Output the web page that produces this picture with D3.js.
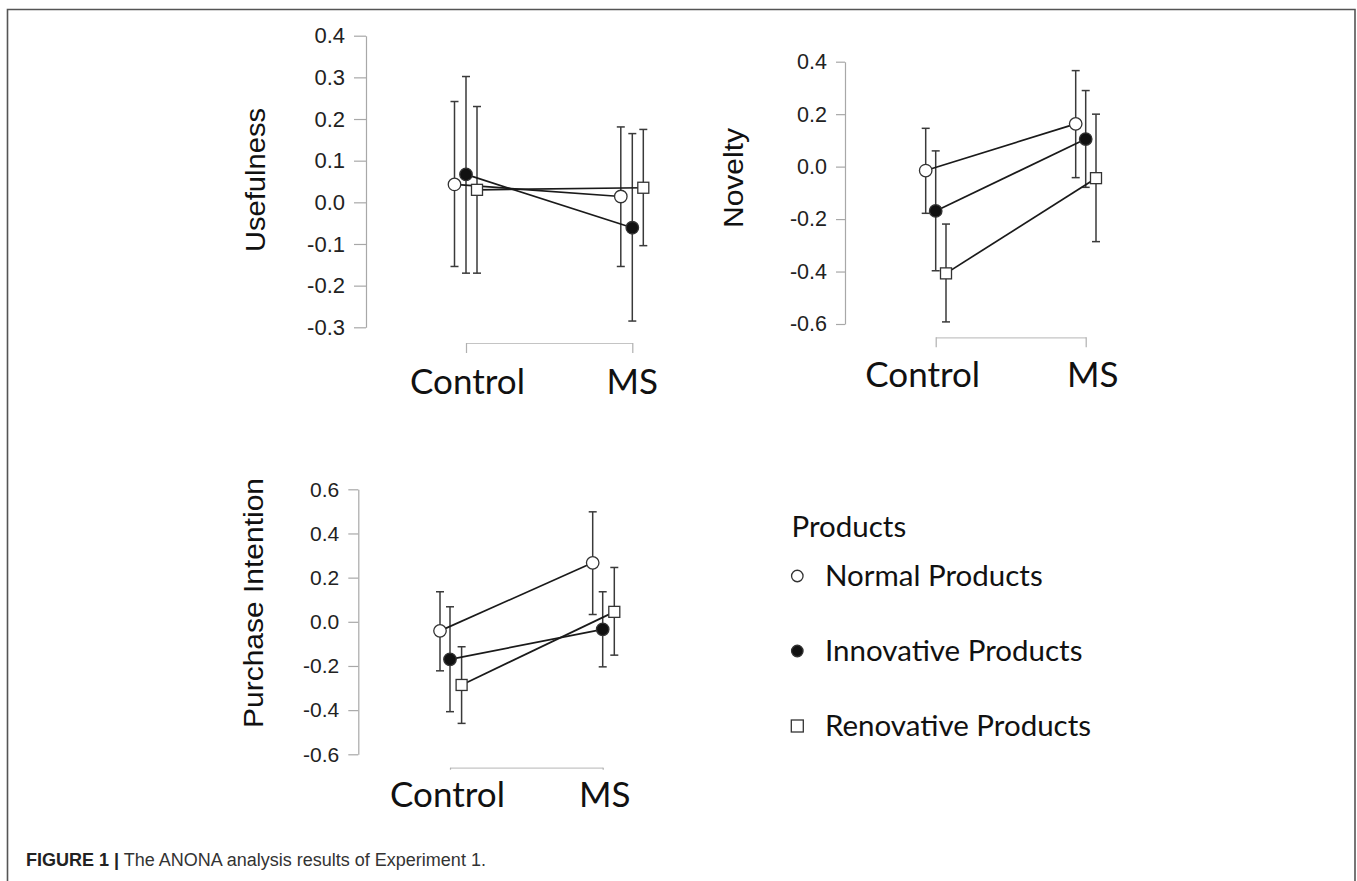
<!DOCTYPE html>
<html>
<head>
<meta charset="utf-8">
<script src="https://cdn.jsdelivr.net/npm/d3@7"></script>
<style>
  html, body { margin: 0; padding: 0; background: #fff; }
  svg { display: block; }
</style>
</head>
<body>
<svg id="chart" width="1357" height="881"></svg>
<script>
// ---------------- DATA ----------------
const categories = ["Control", "MS"];
const seriesNames = ["Normal Products", "Innovative Products", "Renovative Products"];
const seriesShapes = ["openCircle", "filledCircle", "openSquare"];
const legendTitle = "Products";

// rows: Normal, Innovative, Renovative ; columns: Control, MS
const usefulnessMean  = [[0.043, 0.014], [0.067, -0.061], [0.030, 0.035]];
const usefulnessLower = [[-0.154, -0.154], [-0.170, -0.285], [-0.170, -0.104]];
const usefulnessUpper = [[0.242, 0.181], [0.302, 0.165], [0.230, 0.175]];
const usefulnessTicks = [-0.3, -0.2, -0.1, 0.0, 0.1, 0.2, 0.3, 0.4];

const noveltyMean  = [[-0.015, 0.163], [-0.169, 0.105], [-0.407, -0.044]];
const noveltyLower = [[-0.178, -0.042], [-0.397, -0.079], [-0.592, -0.286]];
const noveltyUpper = [[0.146, 0.366], [0.060, 0.290], [-0.219, 0.200]];
const noveltyTicks = [-0.6, -0.4, -0.2, 0.0, 0.2, 0.4];

const purchaseMean  = [[-0.041, 0.267], [-0.170, -0.034], [-0.286, 0.045]];
const purchaseLower = [[-0.222, 0.033], [-0.407, -0.204], [-0.460, -0.151]];
const purchaseUpper = [[0.136, 0.498], [0.068, 0.136], [-0.113, 0.246]];
const purchaseTicks = [-0.6, -0.4, -0.2, 0.0, 0.2, 0.4, 0.6];

const captionBold = "FIGURE 1 |";
const captionText = " The ANONA analysis results of Experiment 1.";

// ---------------- LAYOUT ----------------
const svg = d3.select("#chart");
const tickFont = "'Liberation Sans', Arial, Helvetica, sans-serif";
const catFont = "Lato, 'Noto Sans', sans-serif";

// frame
svg.append("path")
  .attr("d", "M7.5,881V9.5H1355V881")
  .attr("fill", "none").attr("stroke", "#555").attr("stroke-width", 1.6);

const panels = [
  { title: "Usefulness", mean: usefulnessMean, lo: usefulnessLower, hi: usefulnessUpper, ticks: usefulnessTicks,
    yTop: 35.7, yBot: 327.3, axisX: 366, tickLen: 12, tickFs: 22,
    xRange: [466, 632.3], dodge: [-11.5, 0, 11], xAxisY: 343, xTickLen: 10,
    catY: 394, catDx: [1.5, 0], titleX: 265, titleY: 180, titleLen: 144 },
  { title: "Novelty", mean: noveltyMean, lo: noveltyLower, hi: noveltyUpper, ticks: noveltyTicks,
    yTop: 61.7, yBot: 324, axisX: 845, tickLen: 9, tickFs: 21.5,
    xRange: [935.7, 1085.7], dodge: [-10, 0, 10.3], xAxisY: 337.3, xTickLen: 10,
    catY: 386.7, catDx: [-13, 7], titleX: 743, titleY: 178, titleLen: 100 },
  { title: "Purchase Intention", mean: purchaseMean, lo: purchaseLower, hi: purchaseUpper, ticks: purchaseTicks,
    yTop: 489.3, yBot: 754.3, axisX: 358.3, tickLen: 10, tickFs: 21,
    xRange: [450, 602.7], dodge: [-10, 0, 11.6], xAxisY: 767.7, xTickLen: 2,
    catY: 806.7, catDx: [-2.5, 2], titleX: 263, titleY: 603, titleLen: 250 }
];

function drawSymbol(g, shape, x, y, size) {
  if (shape === "openSquare") {
    g.append("rect").attr("x", x - size / 2).attr("y", y - size / 2)
      .attr("width", size).attr("height", size)
      .attr("fill", "#fff").attr("stroke", "#333").attr("stroke-width", 1.3);
  } else {
    g.append("circle").attr("cx", x).attr("cy", y).attr("r", size / 2)
      .attr("fill", shape === "filledCircle" ? "#111" : "#fff")
      .attr("stroke", "#333").attr("stroke-width", 1.3);
  }
}

panels.forEach(p => {
  const g = svg.append("g");
  const y = d3.scaleLinear().domain(d3.extent(p.ticks)).range([p.yBot, p.yTop]);
  const x = d3.scalePoint().domain(categories).range(p.xRange).padding(0);

  // y axis
  const yAxis = g.append("g").attr("transform", `translate(${p.axisX},0)`)
    .call(d3.axisLeft(y).tickValues(p.ticks).tickFormat(d => d.toFixed(1))
      .tickSize(p.tickLen).tickSizeOuter(0).tickPadding(9));
  yAxis.select(".domain").attr("stroke", "#a8a8a8").attr("stroke-width", 1.2);
  yAxis.selectAll(".tick line").attr("stroke", "#a8a8a8").attr("stroke-width", 1.2);
  yAxis.selectAll(".tick text").attr("fill", "#222")
    .style("font-family", tickFont).style("font-size", p.tickFs + "px");

  // x axis bracket
  const xAxis = g.append("g").attr("transform", `translate(0,${p.xAxisY})`)
    .call(d3.axisBottom(x).tickSize(p.xTickLen).tickSizeOuter(0).tickFormat(""));
  xAxis.select(".domain").attr("stroke", "#c4c4c4").attr("stroke-width", 1.2);
  xAxis.selectAll(".tick line").attr("stroke", "#b0b0b0").attr("stroke-width", 1.2);

  // category labels
  categories.forEach((c, i) => {
    g.append("text").attr("x", x(c) + p.catDx[i]).attr("y", p.catY)
      .attr("text-anchor", "middle")
      .style("font-family", catFont).style("font-size", "35px").attr("fill", "#111")
      .text(c);
  });

  // y title
  g.append("text")
    .attr("transform", `translate(${p.titleX},${p.titleY}) rotate(-90)`)
    .attr("text-anchor", "middle")
    .attr("textLength", p.titleLen).attr("lengthAdjust", "spacingAndGlyphs")
    .style("font-family", tickFont).style("font-size", "27px").attr("fill", "#111")
    .text(p.title);

  // error bars
  seriesNames.forEach((s, si) => {
    categories.forEach((c, ci) => {
      const cx = x(c) + p.dodge[si];
      const y1 = y(p.hi[si][ci]), y0 = y(p.lo[si][ci]);
      g.append("line").attr("x1", cx).attr("x2", cx).attr("y1", y1).attr("y2", y0)
        .attr("stroke", "#3a3a3a").attr("stroke-width", 1.5);
      [y1, y0].forEach(yy => g.append("line")
        .attr("x1", cx - 4).attr("x2", cx + 4).attr("y1", yy).attr("y2", yy)
        .attr("stroke", "#3a3a3a").attr("stroke-width", 1.5));
    });
  });

  // lines
  const line = d3.line().x(d => d[0]).y(d => d[1]);
  seriesNames.forEach((s, si) => {
    const pts = categories.map((c, ci) => [x(c) + p.dodge[si], y(p.mean[si][ci])]);
    g.append("path").attr("d", line(pts)).attr("fill", "none")
      .attr("stroke", "#1a1a1a").attr("stroke-width", 1.7);
  });

  // points
  seriesNames.forEach((s, si) => {
    categories.forEach((c, ci) => {
      drawSymbol(g, seriesShapes[si], x(c) + p.dodge[si], y(p.mean[si][ci]),
        seriesShapes[si] === "openSquare" ? 11 : 12.5);
    });
  });
});

// legend
const lg = svg.append("g");
lg.append("text").attr("x", 791.5).attr("y", 537)
  .style("font-family", catFont).style("font-size", "29.5px").attr("fill", "#111")
  .text(legendTitle);
const legendY = [576, 651, 726];
seriesNames.forEach((s, i) => {
  drawSymbol(lg, seriesShapes[i], 797.3, legendY[i], seriesShapes[i] === "openSquare" ? 12 : 11.5);
  lg.append("text").attr("x", 825).attr("y", legendY[i] + 10)
    .style("font-family", catFont).style("font-size", "29.5px").attr("fill", "#111")
    .text(s);
});

// caption
const cap = svg.append("text").attr("x", 26).attr("y", 865.5)
  .style("font-family", tickFont).style("font-size", "18px").attr("fill", "#333");
cap.append("tspan").style("font-weight", "bold").attr("fill", "#222").text(captionBold);
cap.append("tspan").text(captionText);
</script>
</body>
</html>
